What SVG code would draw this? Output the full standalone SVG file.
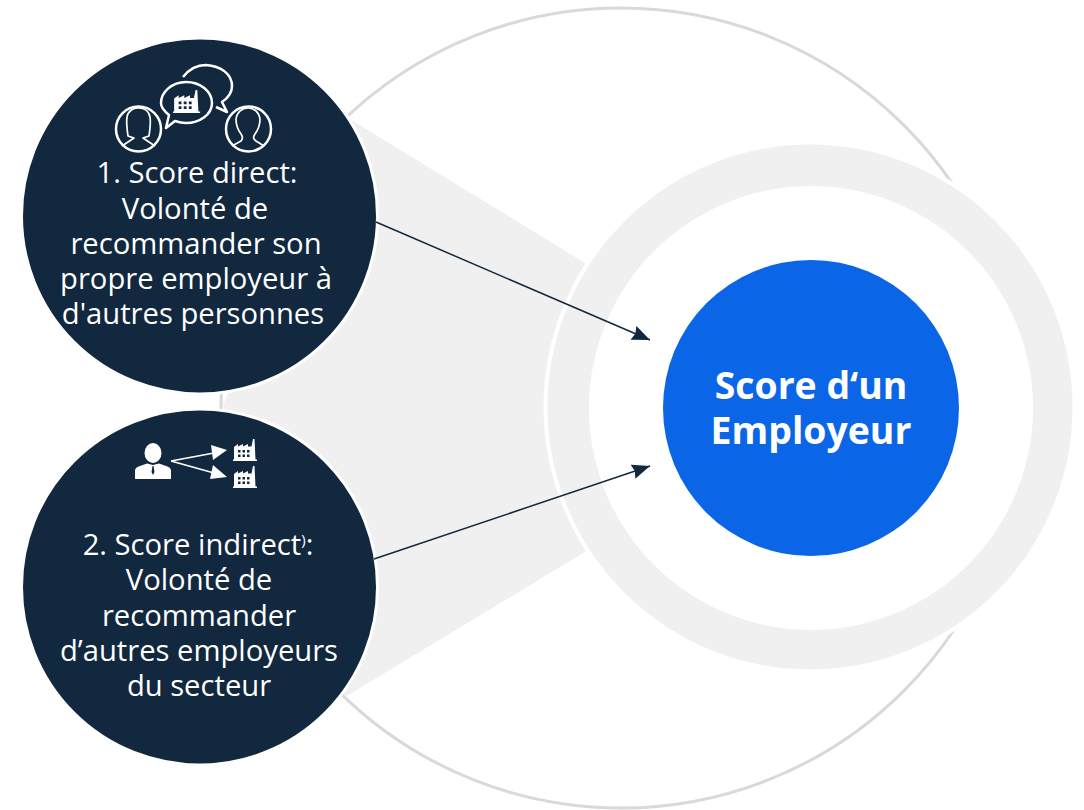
<svg xmlns="http://www.w3.org/2000/svg" xmlns:xlink="http://www.w3.org/1999/xlink" width="1084" height="810" viewBox="0 0 1084 810">
<style>
.dark{fill:#11283f;stroke:#fff;stroke-width:3}
.t{font-family:"Open Sans","Noto Sans",sans-serif;font-size:29.2px;fill:#fff;text-anchor:middle}
.b{font-family:"Open Sans","Noto Sans",sans-serif;font-size:37.4px;font-weight:700;fill:#fff;text-anchor:middle}
.ol{fill:none;stroke:#fff;stroke-width:2.500;stroke-linejoin:round}
.ol2{fill:none;stroke:#fff;stroke-width:1.700;stroke-linejoin:round}
.conn{stroke:#11283f;stroke-width:1.500;fill:none;marker-end:url(#ah)}
.wa{stroke:#fff;stroke-width:1.700;fill:none}
</style>
<defs>
<marker id="ah" markerUnits="userSpaceOnUse" markerWidth="20" markerHeight="16" refX="18" refY="7.5" orient="auto"><path d="M0 0L18 7.5L0 15L2 7.5Z" fill="#11283f"/></marker>
<path id="fac" fill="#fff" fill-rule="evenodd" d="M0 22V20.500H1V8L5 5V7.500L10 5V7.500L15 5V7.500H18.500L20 0H21.500L22.500 20.500H24V22ZM5 11V13.500H7.500V11ZM9.500 11V13.500H12V11ZM14 11V13.500H16.500V11ZM5 15.500V18H7.500V15.500ZM9.500 15.500V18H12V15.500ZM14 15.500V18H16.500V15.500Z"/>
</defs>
<g id="outer-circle"><circle cx="621" cy="408" r="400" fill="#fff" stroke="#d9d9d9" stroke-width="3"/></g>
<g id="wedge"><path d="M348 118L590 266V549L345 697L223 405Z" fill="#f0f0f0"/></g>
<g id="ring"><circle cx="810" cy="407" r="264.500" fill="#f0f0f0" stroke="#fff" stroke-width="4"/><circle cx="811" cy="408" r="222" fill="#fff"/></g>
<g id="node-score"><circle cx="811" cy="408" r="148" fill="#0a66e6"/>
<text class="b" x="811" y="399">Score d‘un</text><text class="b" x="811" y="444">Employeur</text></g>
<g id="node-direct"><circle class="dark" cx="199.500" cy="216" r="178"/>
<text class="t" x="197" y="183">1. Score direct:</text>
<text class="t" x="195" y="219">Volonté de</text>
<text class="t" x="196" y="254">recommander son</text>
<text class="t" x="196" y="289">propre employeur à</text>
<text class="t" x="193" y="324">d'autres personnes</text>
<g id="icon-talk">
<circle class="ol" cx="138.500" cy="129" r="22.500"/>
<circle class="ol" cx="248.500" cy="129" r="22.500"/>
<path class="ol2" d="M122 146L134 138L128 136C127 129 126 122 127 117C128 111 133 108 138 108C144 108 149 111 150 117C151 122 150 129 149 136L143 138L155 146"/>
<path class="ol2" d="M232 146L241 141C243 139 243 137 241 134C238 130 236 125 236 119C237 112 242 108 248 108C254 108 259 112 260 119C260 125 258 130 255 134C253 137 253 139 256 141L264 146"/>
<path class="ol" d="M183 77C190 68 198 65 206 65C221 66 232 74 232 86C232 93 228 98 222 102L227 112L216 107"/>
<path class="ol" d="M186 82C200 82 212 91 212 103C212 115 199 123 186 123C182 123 178 122 175 121L166 128L169 115C164 111 161 107 161 103C161 92 172 82 186 82Z"/>
<use xlink:href="#fac" href="#fac" transform="translate(173 90) scale(1.130 1.050)"/>
</g>
</g>
<g id="node-indirect"><circle class="dark" cx="199.500" cy="587" r="178"/>
<text class="t" x="198" y="555">2. Score indirect<tspan font-size="15" dy="-10">)</tspan><tspan dy="10">:</tspan></text>
<text class="t" x="199" y="590">Volonté de</text>
<text class="t" x="199" y="626">recommander</text>
<text class="t" x="199" y="661">d’autres employeurs</text>
<text class="t" x="199" y="696">du secteur</text>
<g id="icon-person">
<ellipse cx="153" cy="453" rx="8.500" ry="10" fill="#fff"/>
<path fill="#fff" d="M135 479V471C135 468 137 467 140 466L147 463.500L153 465L159 463.500L166 466C169 467 171 468 171 471V479Z"/>
<path fill="#11283f" d="M152.500 466H153.500L154.500 472L153 475L151.500 472Z"/>
<path class="wa" d="M171 461L214 453M171 461L214 473"/>
<path fill="#fff" d="M227 450L211 445L213 460ZM227 477L213 465L210 479Z"/>
<use xlink:href="#fac" href="#fac" x="233" y="439"/>
<use xlink:href="#fac" href="#fac" x="233" y="466"/>
</g>
</g>
<g id="connectors">
<path class="conn" d="M376 222L650 340"/>
<path class="conn" d="M374 559L650 466"/>
</g>
</svg>
